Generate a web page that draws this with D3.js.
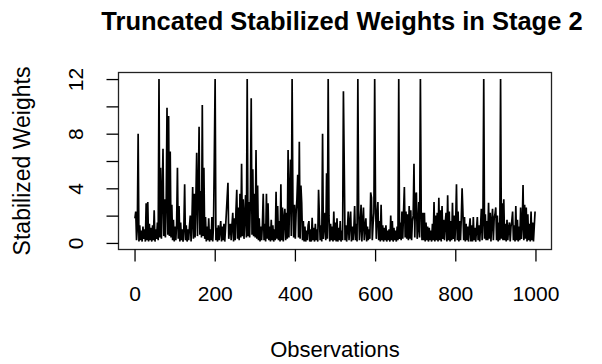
<!DOCTYPE html>
<html>
<head>
<meta charset="utf-8">
<title>Truncated Stabilized Weights in Stage 2</title>
<script src="https://cdn.jsdelivr.net/npm/d3@7"></script>
<style>
  body { margin: 0; background: #fff; }
  svg text { font-family: "Liberation Sans", Arial, sans-serif; fill: #000; }
</style>
</head>
<body>
<svg id="chart" width="602" height="364"></svg>
<script>
var obsStep = 2;
var weights = [
  1.8, 2.3, 0.2, 1.1, 8.0, 0.1, 1.3, 0.2, 0.9, 0.1, 1.2, 0.3, 1.0, 0.1, 2.9, 0.2, 3.0, 0.1, 1.4, 0.2,
  1.1, 0.1, 1.3, 0.2, 2.4, 0.1, 1.0, 0.3, 1.5, 0.2, 12, 0.4, 5.5, 0.3, 3.4, 6.9, 0.5, 3.2, 0.4, 3.0,
  9.9, 0.6, 9.3, 0.5, 6.7, 0.4, 2.8, 0.2, 1.7, 0.1, 1.2, 0.2, 1.4, 5.5, 0.3, 2.7, 0.1, 1.5, 0.2, 1.0,
  0.1, 1.1, 4.3, 0.2, 1.3, 0.1, 1.0, 0.2, 1.2, 2.0, 0.1, 1.5, 4.1, 0.3, 3.6, 0.4, 3.2, 6.6, 0.5, 3.5,
  8.5, 0.6, 3.8, 0.4, 10.1, 0.5, 5.5, 0.3, 1.9, 0.1, 1.2, 0.2, 1.8, 0.1, 1.0, 0.2, 1.9, 0.1, 1.3, 6.3,
  12, 0.2, 1.1, 0.1, 1.3, 0.2, 0.9, 1.6, 0.1, 1.2, 0.2, 1.4, 0.1, 1.1, 2.2, 3.3, 4.4, 0.3, 1.0, 1.4,
  0.2, 1.3, 2.2, 0.1, 1.8, 0.2, 2.4, 3.9, 0.3, 2.6, 0.2, 3.6, 0.4, 5.8, 0.5, 3.2, 0.3, 2.0, 3.5, 0.4,
  12, 0.5, 3.0, 0.4, 3.4, 10.6, 0.6, 5.4, 0.5, 3.6, 0.4, 6.8, 0.3, 4.2, 0.2, 1.8, 0.1, 1.2, 0.2, 1.4,
  3.6, 0.2, 1.4, 0.1, 3.6, 0.3, 2.9, 0.2, 1.2, 0.1, 1.7, 0.2, 1.3, 0.1, 1.0, 0.2, 3.75, 0.3, 2.7, 0.2,
  1.6, 0.1, 4.3, 0.2, 2.6, 0.1, 1.8, 2.5, 0.2, 2.2, 0.3, 6.8, 0.4, 3.5, 6.1, 0.5, 12, 3.0, 0.4, 2.8,
  0.3, 2.2, 3.2, 5.0, 0.4, 7.4, 0.3, 4.2, 2.9, 0.2, 1.6, 0.1, 1.2, 0.1, 0.9, 0.2, 1.3, 1.6, 0.1, 1.0,
  0.1, 1.85, 0.2, 1.1, 0.1, 1.4, 0.2, 1.0, 0.1, 3.9, 2.0, 0.2, 1.3, 0.1, 8.0, 0.3, 1.2, 2.2, 0.2, 5.1,
  0.3, 12, 2.0, 0.1, 1.4, 0.2, 1.2, 0.1, 2.3, 0.2, 1.5, 0.1, 1.8, 0.1, 1.1, 0.2, 1.6, 0.1, 0.9, 0.2,
  11.1, 5.8, 0.2, 1.3, 0.1, 1.0, 2.3, 0.2, 1.5, 2.3, 0.1, 1.2, 0.2, 1.0, 2.7, 0.2, 1.4, 0.1, 12, 2.4,
  0.2, 1.3, 2.8, 0.1, 1.5, 2.6, 0.2, 1.1, 1.8, 0.1, 1.2, 0.2, 1.0, 0.3, 3.7, 3.3, 0.2, 1.4, 2.2, 12,
  3.1, 0.3, 2.0, 3.0, 0.2, 1.6, 0.1, 2.8, 0.2, 1.3, 0.1, 1.1, 0.2, 1.3, 0.1, 0.9, 0.2, 1.0, 0.1, 2.0,
  0.2, 1.6, 0.1, 1.1, 0.2, 0.9, 0.1, 1.2, 0.2, 12, 0.3, 1.5, 0.2, 2.3, 0.3, 2.3, 4.1, 0.4, 2.3, 0.3,
  2.1, 0.2, 2.7, 0.3, 2.4, 0.2, 1.6, 2.0, 5.8, 0.4, 3.5, 3.7, 0.3, 1.1, 3.0, 0.4, 12, 2.3, 0.2, 2.2,
  0.2, 2.2, 0.1, 1.5, 0.2, 1.2, 0.1, 1.1, 0.2, 0.9, 0.1, 1.4, 0.2, 3.0, 0.1, 2.0, 0.2, 2.2, 0.1, 3.3,
  0.2, 2.4, 0.1, 2.7, 0.3, 1.7, 0.2, 1.5, 2.2, 0.1, 3.5, 0.2, 2.3, 0.1, 1.6, 0.2, 2.95, 0.3, 2.0, 0.1,
  1.5, 4.3, 0.2, 2.3, 0.1, 1.6, 0.2, 1.8, 4.0, 2.3, 0.2, 1.9, 0.1, 1.4, 0.2, 1.2, 0.1, 1.1, 1.8, 0.1,
  1.3, 0.1, 1.9, 0.2, 1.1, 0.1, 1.0, 1.9, 0.2, 1.3, 0.1, 1.2, 2.5, 0.2, 1.6, 12, 0.3, 2.1, 0.2, 1.6,
  0.2, 2.95, 0.3, 2.2, 0.1, 1.6, 2.5, 0.2, 1.8, 2.1, 2.6, 0.2, 2.0, 0.1, 1.5, 0.2, 12, 0.3, 2.9, 0.2,
  3.2, 0.2, 1.4, 0.1, 1.7, 0.2, 1.1, 1.5, 0.1, 1.2, 1.6, 2.3, 0.2, 1.3, 0.1, 2.7, 0.2, 1.7, 0.1, 1.2,
  0.2, 2.6, 0.3, 1.3, 4.25, 0.2, 2.8, 0.3, 2.6, 0.1, 2.1, 0.2, 1.4, 0.1, 2.3, 0.2, 1.5, 0.1, 1.2, 2.3
];
var xTicks = [0, 200, 400, 600, 800, 1000];
var yTicks = [0, 2, 4, 6, 8, 10, 12];
var yTickLabels = [0, 4, 8, 12];

var svg = d3.select("#chart"),
    box = {left: 118.5, right: 551.5, top: 72.5, bottom: 249.5};

// R pads the data range by 4% on each side
var x = d3.scaleLinear().domain([-40, 1040]).range([box.left, box.right]);
var y = d3.scaleLinear().domain([-0.48, 12.48]).range([box.bottom, box.top]);

var line = d3.line()
    .x(function(d, i) { return x(1 + i * obsStep); })
    .y(function(d) { return y(d); });

svg.append("path")
    .datum(weights)
    .attr("fill", "none")
    .attr("stroke", "#000")
    .attr("stroke-width", 1.7)
    .attr("d", line);

// plot box
svg.append("rect")
    .attr("x", box.left).attr("y", box.top)
    .attr("width", box.right - box.left).attr("height", box.bottom - box.top)
    .attr("fill", "none").attr("stroke", "#222").attr("stroke-width", 1.3);

var xAxis = svg.append("g")
    .attr("transform", "translate(0," + box.bottom + ")")
    .call(d3.axisBottom(x).tickValues(xTicks).tickSize(12).tickPadding(25)
      .tickFormat(function(d) { return String(d); }));
xAxis.select(".domain").remove();
xAxis.selectAll("line").attr("stroke-width", 1.3);
xAxis.selectAll("text").attr("font-size", 21).attr("font-family", null);

var yAxis = svg.append("g")
    .attr("transform", "translate(" + box.left + ",0)")
    .call(d3.axisLeft(y).tickValues(yTicks).tickSize(12)
      .tickFormat(function(d) { return yTickLabels.indexOf(d) >= 0 ? d : ""; }));
yAxis.select(".domain").remove();
yAxis.selectAll("line").attr("stroke-width", 1.3);
yAxis.selectAll("text")
    .attr("x", null).attr("dy", null)
    .attr("text-anchor", "middle")
    .attr("transform", "translate(-36,0) rotate(-90)")
    .attr("font-size", 21).attr("font-family", null);

svg.append("text")
    .attr("x", 342).attr("y", 30)
    .attr("text-anchor", "middle")
    .attr("font-size", 25.5).attr("font-weight", "bold")
    .text("Truncated Stabilized Weights in Stage 2");

svg.append("text")
    .attr("x", 335).attr("y", 357)
    .attr("text-anchor", "middle")
    .attr("font-size", 22)
    .text("Observations");

svg.append("text")
    .attr("transform", "translate(30,161) rotate(-90)")
    .attr("text-anchor", "middle")
    .attr("font-size", 23)
    .text("Stabilized Weights");
</script>
</body>
</html>
